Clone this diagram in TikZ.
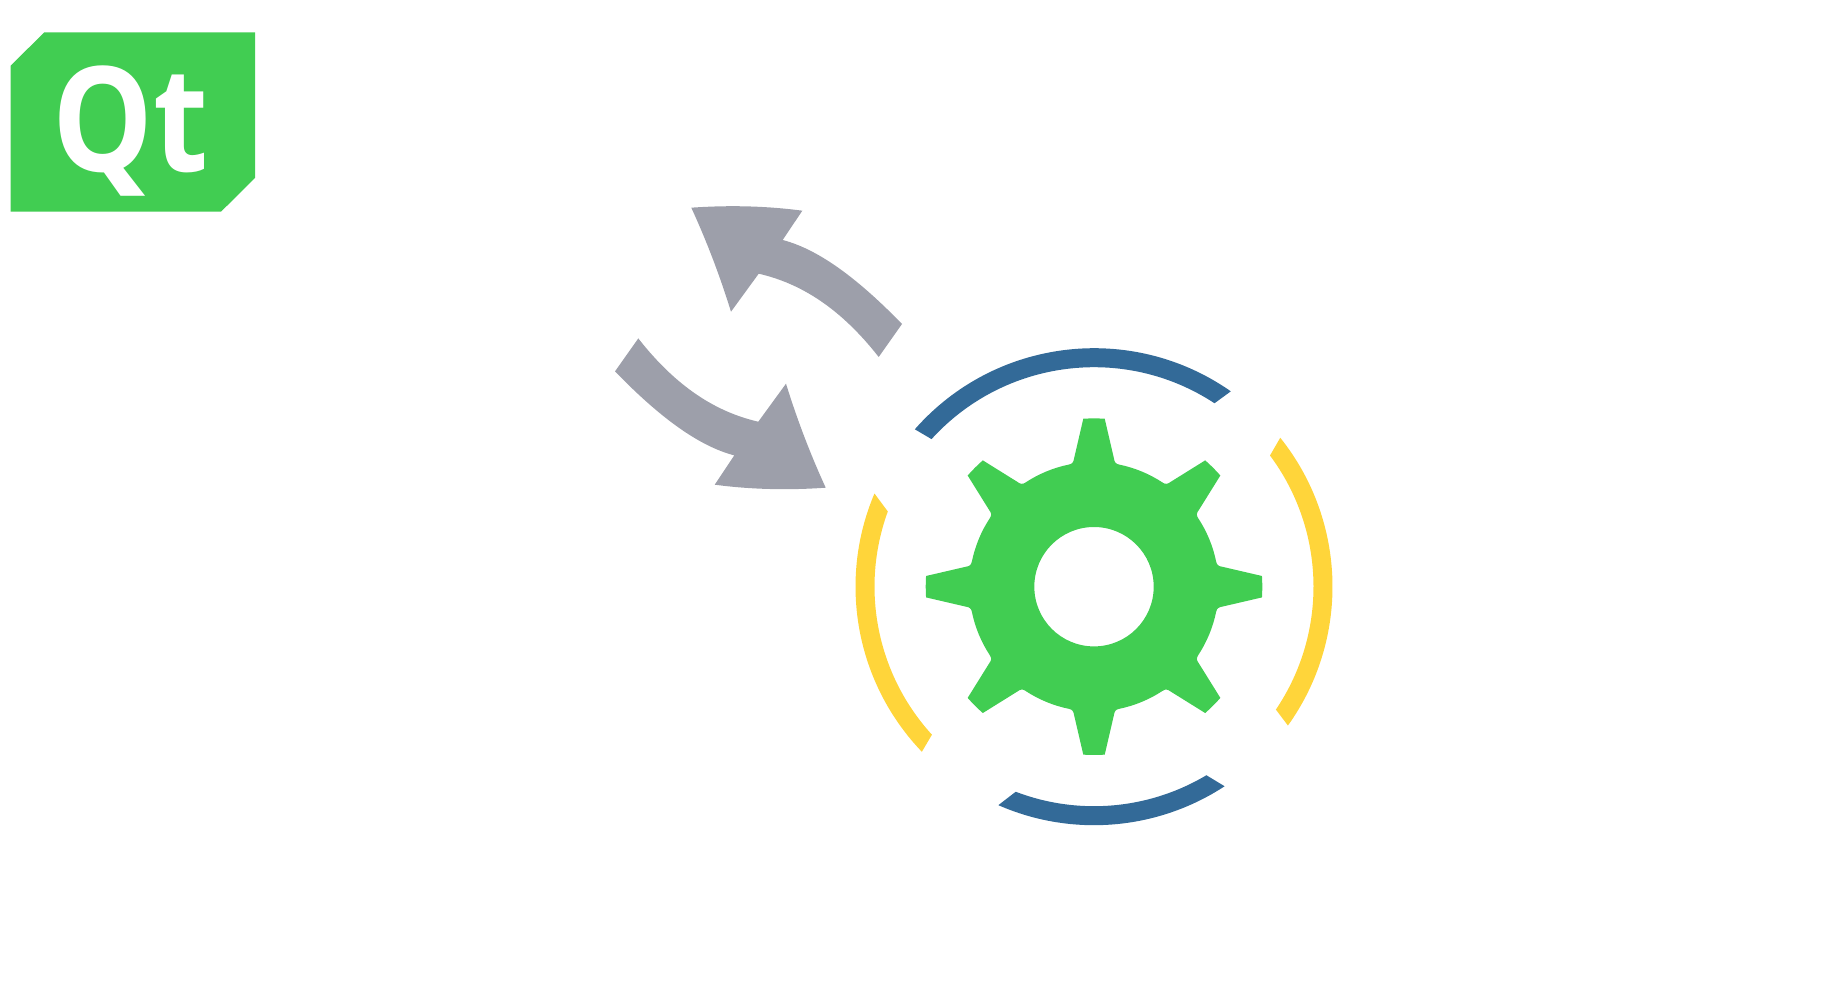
\documentclass[tikz,border=0pt]{standalone}
\usepackage{xcolor}
\usepackage{fontspec}
\usepackage{tikz}
\setmainfont{Open Sans}
\definecolor{qtgreen}{HTML}{41CD52}
\definecolor{arrowgray}{HTML}{9D9FAA}
\definecolor{ringblue}{HTML}{336A98}
\definecolor{ringyellow}{HTML}{FFD53A}

\begin{document}
\begin{tikzpicture}[
    x=0.02cm, y=0.02cm,
    logotext/.style={text=white, inner sep=0pt, anchor=base west, xscale=0.87, font=\fontsize{83}{83}\selectfont\bfseries},
    arrowshape/.style={fill=arrowgray},
    gearshape/.style={fill=qtgreen, even odd rule}
]
    \useasboundingbox (0,0) rectangle (1821,998);

    % logo
    \fill [qtgreen] (44.3,965.7) -- (255,965.7) -- (255,820) -- (221,786.3) -- (10.7,786.3) -- (10.7,932.3) -- cycle;
    \node [logotext] (qtlabel) at (52,826.3) {Qt};

    % the two arrows
    \foreach \rot in {0,180} {
        \fill [arrowshape, rotate around={\rot:(758.5,650.3)}] (691.3,790.3) .. controls (728.3,792.9) and (765.3,792.2) .. (802.3,787.3)
            -- (782.7,758) .. controls (820.2,748.2) and (860,717.2) .. (902,674)
            -- (878.7,641) .. controls (840.4,690) and (800.4,714.8) .. (758.7,724.3)
            -- (731,686.3) .. controls (719.7,722.8) and (706.4,757.4) .. (691.3,790.3) -- cycle;
    }

    \begin{scope}[shift={(1094,411.3)}]
        % outer ring pieces
        \foreach \col/\oa/\ob/\ia/\ib in {ringblue/138.7/55/56.7/137.75, ringyellow/38.65/-35.6/-34.05/36.7,
                ringblue/-56.8/-113.65/-110.9/-59.2, ringyellow/157/223.8/222.4/159.96} {
            \fill [\col] (\oa:238.5) arc [start angle=\oa, end angle=\ob, radius=238.5]
                -- (\ia:219.5) arc [start angle=\ia, end angle=\ib, radius=219.5] -- cycle;
        }

        % gear
        \fill [gearshape] (93.65:168.3)
            \foreach \a in {90,45,0,-45,-90,-135,-180,-225} {
                arc [start angle=\a+3.65, end angle=\a-3.65, radius=168.3]
                -- (\a-8.8:130) .. controls (\a-9.3:126.3) and (\a-10:124.7) .. (\a-11.6:124.7)
                arc [start angle=\a-11.6, end angle=\a-33.4, radius=124.7]
                .. controls (\a-35:124.7) and (\a-35.7:126.3) .. (\a-36.2:130)
                -- (\a-41.35:168.3)
            } -- cycle
            (0,0) circle [radius=59.7];
    \end{scope}
\end{tikzpicture}
\end{document}
